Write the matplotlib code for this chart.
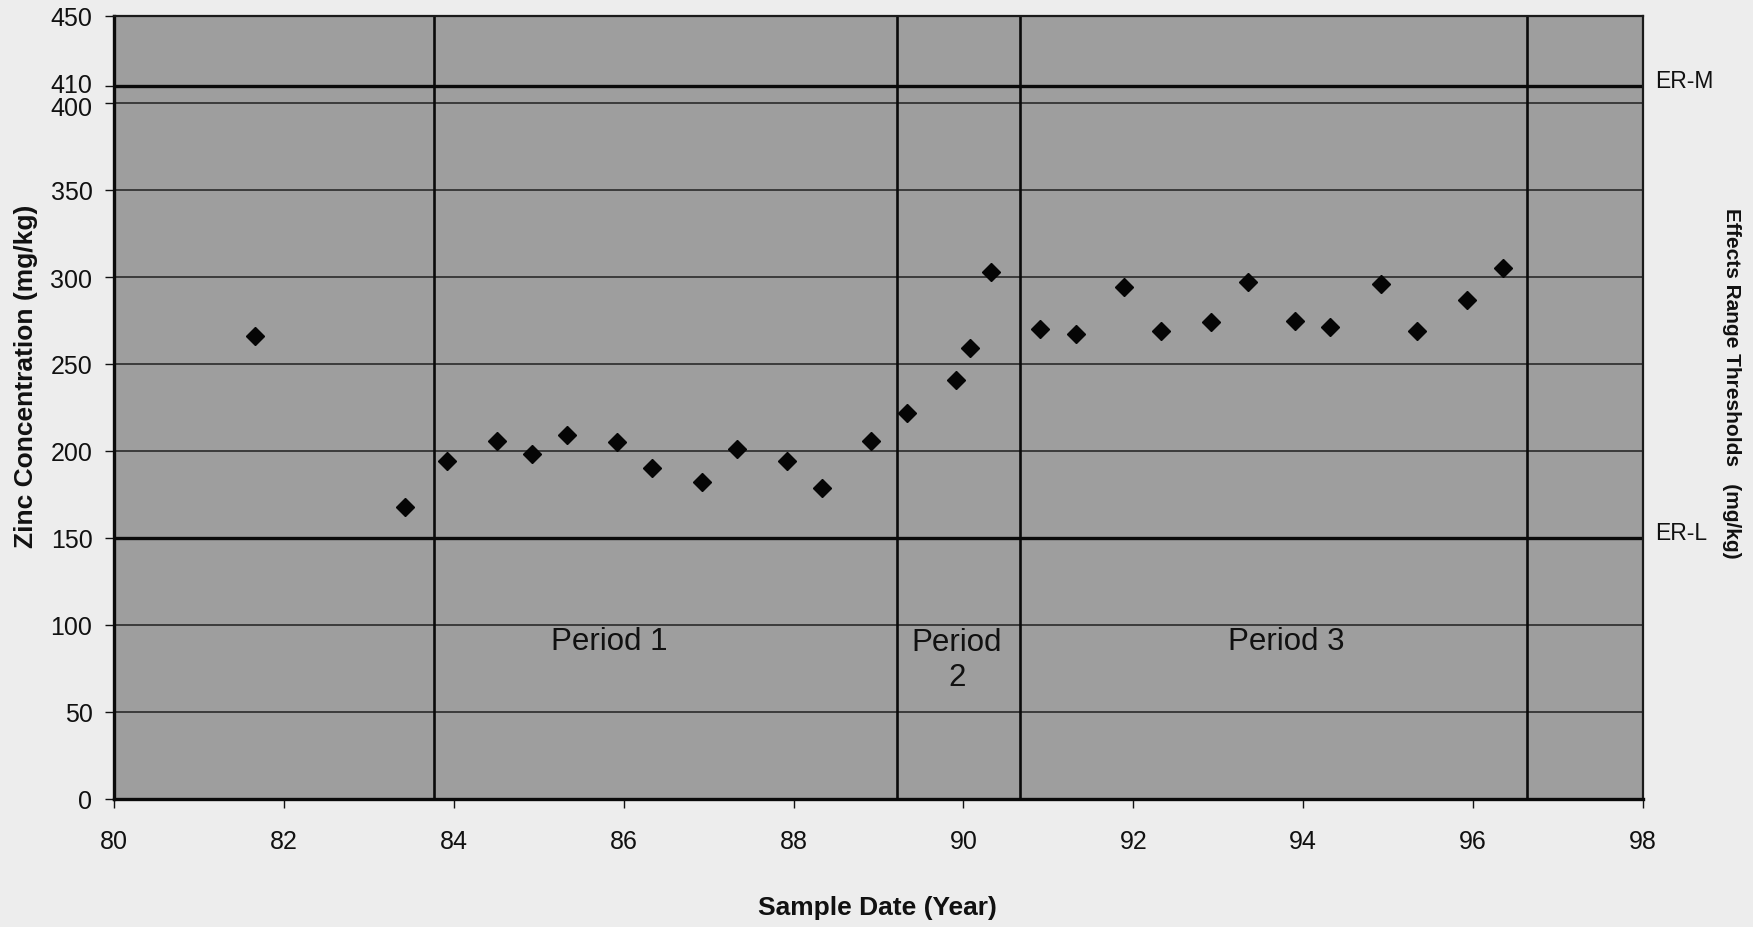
import matplotlib
matplotlib.use("Agg")
import matplotlib.pyplot as plt
from matplotlib.transforms import offset_copy

plt.rcParams['font.family'] = ['Liberation Sans', 'DejaVu Sans']

# Data
years = [81.66, 83.42, 83.92, 84.51, 84.92, 85.33, 85.92, 86.33, 86.92, 87.33,
         87.92, 88.33, 88.91, 89.33, 89.91, 90.08, 90.32, 90.90, 91.32, 91.89,
         92.32, 92.91, 93.35, 93.90, 94.32, 94.91, 95.34, 95.93, 96.35]
zinc = [266, 168, 194, 206, 198, 209, 205, 190, 182, 201,
        194, 179, 206, 222, 241, 259, 303, 270, 267, 294,
        269, 274, 297, 275, 271, 296, 269, 287, 305]

period_bounds = [83.77, 89.22, 90.66, 96.64]
thresholds = [410, 150]
threshold_labels = ["ER-M", "ER-L"]
period_labels = ["Period 1", "Period\n2", "Period 3"]
period_label_x = [85.83, 89.92, 93.80]
period_label_y = [91, 80, 91]

x_ticks = [80, 82, 84, 86, 88, 90, 92, 94, 96, 98]
y_ticks = [0, 50, 100, 150, 200, 250, 300, 350, 400, 410, 450]
grid_levels = [50, 100, 200, 250, 300, 350, 400]

W, H = 1753, 928
fig = plt.figure(figsize=(W / 100, H / 100), dpi=100, facecolor='#ededed')
ax = fig.add_axes([114 / W, 1 - 800 / H, (1643 - 114) / W, (800 - 17) / H])
ax.set_facecolor('#9e9e9e')

ax.set_xlim(80, 98)
ax.set_ylim(0, 450)

for g in grid_levels:
    ax.axhline(g, color='#2a2a2a', lw=1.2, zorder=1)
for t in thresholds:
    ax.axhline(t, color='#0a0a0a', lw=2.4, zorder=2)
for b in period_bounds:
    ax.axvline(b, color='#0a0a0a', lw=1.9, zorder=2)

ax.plot(years, zinc, linestyle='none', marker='D', ms=9.5, color='#050505',
        zorder=4)

for lab, xx, yy in zip(period_labels, period_label_x, period_label_y):
    ax.text(xx, yy, lab, ha='center', va='center', fontsize=22.5,
            color='#111111', linespacing=1.2, zorder=5)

for lab, t in zip(threshold_labels, thresholds):
    ax.annotate(lab, xy=(1, t), xycoords=('axes fraction', 'data'),
                xytext=(9, 4), textcoords='offset points', ha='left',
                va='center', fontsize=16.5, color='#111111',
                annotation_clip=False)

ax.set_xticks(x_ticks)
ax.set_xticklabels([str(v) for v in x_ticks])
ax.set_yticks(y_ticks)
ax.set_yticklabels([str(v) for v in y_ticks])
ax.tick_params(axis='both', direction='out', length=6.5, width=1.0,
               colors='#111111', labelsize=18)
ax.tick_params(axis='y', pad=9)
ax.tick_params(axis='x', pad=15)

# nudge the 410 / 400 labels apart a little, as in the original
for lbl in ax.get_yticklabels():
    if lbl.get_text() == '410':
        lbl.set_transform(offset_copy(lbl.get_transform(), fig=fig, x=0, y=3,
                                      units='dots'))
    elif lbl.get_text() == '400':
        lbl.set_transform(offset_copy(lbl.get_transform(), fig=fig, x=0, y=-2,
                                      units='dots'))

for side in ['left', 'bottom']:
    ax.spines[side].set_linewidth(2.4)
    ax.spines[side].set_color('#0a0a0a')
for side in ['top', 'right']:
    ax.spines[side].set_linewidth(1.6)
    ax.spines[side].set_color('#1a1a1a')

fig.text(877.5 / W, 1 - 908 / H, "Sample Date (Year)", ha='center',
         va='center', fontsize=19, fontweight='bold', color='#111111')
fig.text(26 / W, 1 - 376 / H, "Zinc Concentration (mg/kg)", ha='center',
         va='center', rotation=90, fontsize=19, fontweight='bold',
         color='#111111')
fig.text(1731 / W, 1 - 383 / H, "Effects Range Thresholds   (mg/kg)",
         ha='center', va='center', rotation=270, fontsize=15,
         fontweight='bold', color='#111111')

fig.savefig("out.png", dpi=100, facecolor=fig.get_facecolor())
